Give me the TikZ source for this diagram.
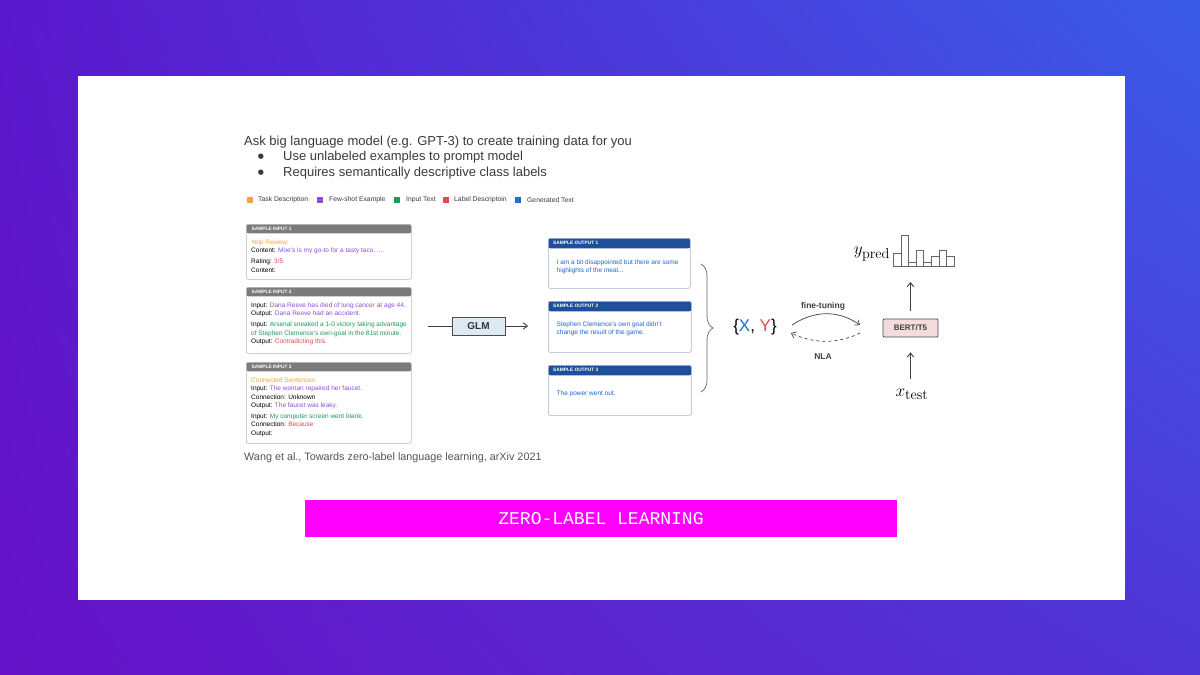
\documentclass[tikz,border=0pt]{standalone}
\usepackage[no-math]{fontspec}
\setmainfont{Liberation Sans}
\setmonofont{Liberation Mono}
\newfontfamily\symbolfont{DejaVu Sans}
\usepackage{xcolor}
\usepackage{tikz}
\usetikzlibrary{arrows.meta,shadings,decorations.pathreplacing}
\definecolor{bgtl}{HTML}{5A18CC}
\definecolor{bgtr}{HTML}{3A5CE8}
\definecolor{bgbl}{HTML}{6612C8}
\definecolor{bgbr}{HTML}{5035D5}
\definecolor{headgray}{HTML}{3A3A3A}
\definecolor{citegray}{HTML}{555555}
\definecolor{taskorange}{HTML}{F2A04C}
\definecolor{shotpurple}{HTML}{8E4FD6}
\definecolor{inputgreen}{HTML}{1E9A5A}
\definecolor{labelred}{HTML}{E5484D}
\definecolor{genblue}{HTML}{1D6FD1}
\definecolor{outtext}{HTML}{2466C8}
\definecolor{inhead}{HTML}{7B7B7B}
\definecolor{inborder}{HTML}{B8B8B8}
\definecolor{outhead}{HTML}{1F4F99}
\definecolor{outborder}{HTML}{9DB2CF}
\definecolor{glmfill}{HTML}{DCEBF3}
\definecolor{bertfill}{HTML}{F3DCDC}
\definecolor{banner}{HTML}{FF00FF}

\tikzset{
  samplebox/.style 2 args={fill=white, rounded corners=2pt, inner sep=0pt, anchor=north west,
    line width=0.6pt,
    path picture={\fill[#1] (path picture bounding box.north west) rectangle
      ([yshift=-#2]path picture bounding box.north east);}},
  inbox/.style={samplebox={inhead}{9pt}, draw=inborder},
  outbox/.style={samplebox={outhead}{10pt}, draw=outborder},
  bandtitle/.style={anchor=west, inner sep=0pt, text=white, font=\bfseries\fontsize{4.8}{5}\selectfont},
  boxtext/.style={anchor=north west, inner sep=0pt, align=left, font=\fontsize{6.5}{8.4}\selectfont},
  legendtext/.style={anchor=west, inner sep=0pt, text=headgray, font=\fontsize{6.8}{8}\selectfont},
  headtext/.style={anchor=west, inner sep=0pt, text=headgray, font=\fontsize{13}{15}\selectfont},
  flow/.style={draw=black!75, line width=0.9pt},
  histbar/.style={draw=black!60, line width=0.8pt}
}

\begin{document}
\begin{tikzpicture}[x=1pt, y=-1pt, >={Straight Barb[length=4pt, width=6.5pt]}]

  \useasboundingbox (0,0) rectangle (1200,675);

  % ================= BACKGROUND AND CARD =================
  \shade[lower left=bgbl, upper left=bgtl, upper right=bgtr, lower right=bgbr]
    (0,0) rectangle (1200,675);
  \fill[white] (78,76) rectangle (1125,600);

  % Heading and bullets
  \node[headtext] (heading) at (244,142)
    {Ask big language model (e.g. GPT-3) to create training data for you};
  \node[inner sep=0pt, text=headgray, font=\symbolfont\fontsize{7}{8}\selectfont] (dot1) at (261,157) {●};
  \node[headtext] (point1) at (283,157) {Use unlabeled examples to prompt model};
  \node[inner sep=0pt, text=headgray, font=\symbolfont\fontsize{7}{8}\selectfont] (dot2) at (261,173) {●};
  \node[headtext] (point2) at (283,173) {Requires semantically descriptive class labels};

  % Legend
  \fill[taskorange] (247,197) rectangle (253,203);
  \node[legendtext] (leg1) at (258,200) {Task Description};
  \fill[shotpurple] (317,197) rectangle (323,203);
  \node[legendtext] (leg2) at (329,200) {Few-shot Example};
  \fill[inputgreen] (394,197) rectangle (400,203);
  \node[legendtext] (leg3) at (406,200) {Input Text};
  \fill[labelred] (443,197) rectangle (449,203);
  \node[legendtext] (leg4) at (454,200) {Label Descriptoin};
  \fill[genblue] (515,197) rectangle (521,203);
  \node[legendtext] (leg5) at (527,200) {Generated Text};

  % ================= SAMPLE INPUTS =================
  \node[inbox, minimum width=165pt, minimum height=55pt] (in1) at (246,224) {};
  \node[bandtitle] (in1title) at ([xshift=5.5pt, yshift=-4.5pt]in1.north west) {SAMPLE INPUT 1};
  \node[boxtext] (in1text) at ([xshift=5pt, yshift=-15.5pt]in1.north west)
    {\textcolor{taskorange}{Yelp Review:}\\
     Content: \textcolor{shotpurple}{Moe's is my go-to for a tasty taco, ....}\\[2.5pt]
     Rating: \textcolor{labelred}{3/5}\\
     Content:};

  \node[inbox, minimum width=165pt, minimum height=66pt] (in2) at (246,287) {};
  \node[bandtitle] (in2title) at ([xshift=5.5pt, yshift=-4.5pt]in2.north west) {SAMPLE INPUT 2};
  \node[boxtext] (in2text) at ([xshift=5pt, yshift=-15.5pt]in2.north west)
    {Input: \textcolor{shotpurple}{Dana Reeve has died of lung cancer at age 44.}\\
     Output: \textcolor{shotpurple}{Dana Reeve had an accident.}\\[2.5pt]
     Input: \textcolor{inputgreen}{Arsenal sneaked a 1-0 victory taking advantage}\\
     \textcolor{inputgreen}{of Stephen Clemence's own-goal in the 81st minute.}\\
     Output: \textcolor{labelred}{Contradicting this.}};

  \node[inbox, minimum width=165pt, minimum height=81pt] (in3) at (246,362) {};
  \node[bandtitle] (in3title) at ([xshift=5.5pt, yshift=-4.5pt]in3.north west) {SAMPLE INPUT 3};
  \node[boxtext] (in3text) at ([xshift=5pt, yshift=-15.5pt]in3.north west)
    {\textcolor{taskorange}{Connected Sentences:}\\
     Input: \textcolor{shotpurple}{The woman repaired her faucet.}\\
     Connection: Unknown\\
     Output: \textcolor{shotpurple}{The faucet was leaky.}\\[2.5pt]
     Input: \textcolor{inputgreen}{My computer screen went blank.}\\
     Connection: \textcolor{labelred}{Because}\\
     Output:};

  % ================= GLM =================
  \coordinate (glmin) at (428,326);
  \node[draw=black!70, fill=glmfill, line width=0.8pt, minimum width=53pt, minimum height=18pt,
    inner sep=0pt, text=black!80, font=\bfseries\fontsize{10}{12}\selectfont] (glm) at (478.5,326) {GLM};
  \coordinate (glmout) at (528,326);
  \draw[flow] (glmin) -- (glm);
  \draw[flow, ->] (glm) -- (glmout);

  % ================= SAMPLE OUTPUTS =================
  \node[outbox, minimum width=142pt, minimum height=50pt] (out1) at (548,238) {};
  \node[bandtitle] (out1title) at ([xshift=5pt, yshift=-5pt]out1.north west) {SAMPLE OUTPUT 1};
  \node[boxtext, text=outtext] (out1text) at ([xshift=8.5pt, yshift=-21.5pt]out1.north west)
    {I am a bit disappointed but there are some\\highlights of the meal...};

  \node[outbox, minimum width=143pt, minimum height=51pt] (out2) at (548,301) {};
  \node[bandtitle] (out2title) at ([xshift=5pt, yshift=-5pt]out2.north west) {SAMPLE OUTPUT 2};
  \node[boxtext, text=outtext] (out2text) at ([xshift=8.5pt, yshift=-20.5pt]out2.north west)
    {Stephen Clemence's own goal didn't\\change the result of the game.};

  \node[outbox, minimum width=143pt, minimum height=50pt] (out3) at (548,365) {};
  \node[bandtitle] (out3title) at ([xshift=5pt, yshift=-5pt]out3.north west) {SAMPLE OUTPUT 3};
  \node[boxtext, text=outtext] (out3text) at ([xshift=8.5pt, yshift=-25.5pt]out3.north west)
    {The power went out.};

  % Brace gathering the outputs
  \coordinate (bracetop) at (701,264);
  \coordinate (bracebot) at (701,392);
  \draw[decorate, decoration={brace, amplitude=12pt}, draw=black!60, line width=0.7pt]
    (bracetop) -- (bracebot);

  % ================= DATASET AND SMALL MODEL =================
  \node[inner sep=0pt, font=\fontsize{17}{20}\selectfont] (xy) at (755,327)
    {\{\textcolor{genblue}{X}, \textcolor{labelred}{Y}\}};

  \coordinate (ftA) at (792,325);
  \coordinate (ftB) at (860,325);
  \coordinate (nlaA) at (860,333);
  \coordinate (nlaB) at (791,333);
  \draw[draw=black!75, line width=0.7pt, ->] (ftA) .. controls (815,310) and (838,310) .. (ftB);
  \draw[draw=black!75, line width=0.7pt, dashed, ->] (nlaA) .. controls (838,344) and (814,344) .. (nlaB);
  \node[inner sep=0pt, text=black!75, font=\bfseries\fontsize{8.5}{10}\selectfont] (ftlabel) at (823,306) {fine-tuning};
  \node[inner sep=0pt, text=black!75, font=\bfseries\fontsize{8.5}{10}\selectfont] (nlalabel) at (823,357) {NLA};

  \node[draw=black!70, fill=bertfill, line width=0.8pt, rounded corners=1pt, minimum width=55pt,
    minimum height=18pt, inner sep=0pt, text=black!75, font=\bfseries\fontsize{8}{10}\selectfont]
    (bert) at (910.5,328) {BERT/T5};

  \node[inner sep=0pt, font=\fontsize{19}{22}\selectfont] (xtest) at (912,394) {$x_{\mathrm{test}}$};
  \draw[flow, ->, shorten <=10pt, shorten >=15pt] (xtest.north -| bert.south) -- (bert.south);

  % Predicted distribution
  \coordinate (hist) at (910.5,267);
  \draw[flow, ->, shorten <=8pt, shorten >=15pt] (bert.north) -- (hist);
  \draw[histbar] (893.3,253.3) rectangle (900.9,266.7);
  \draw[histbar] (900.9,235.0) rectangle (908.5,266.7);
  \draw[histbar] (908.5,262.7) rectangle (916.1,266.7);
  \draw[histbar] (916.1,250.7) rectangle (923.7,266.7);
  \draw[histbar] (923.7,262.7) rectangle (931.3,266.7);
  \draw[histbar] (931.3,256.0) rectangle (938.9,266.7);
  \draw[histbar] (938.9,250.7) rectangle (946.5,266.7);
  \draw[histbar] (946.5,256.0) rectangle (954.1,266.7);
  \node[inner sep=0pt, font=\fontsize{19}{22}\selectfont] (ypred) at (872,254) {$y_{\mathrm{pred}}$};

  % Reference
  \node[anchor=west, inner sep=0pt, text=citegray, font=\fontsize{10.8}{12}\selectfont] (cite) at (244,458)
    {Wang et al., Towards zero-label language learning, arXiv 2021};

  % ================= BANNER =================
  \node[fill=banner, minimum width=592pt, minimum height=37pt, inner sep=0pt, text=white,
    font=\ttfamily\fontsize{18}{20}\selectfont] (banner) at (601,518.5) {ZERO-LABEL LEARNING};

\end{tikzpicture}
\end{document}
